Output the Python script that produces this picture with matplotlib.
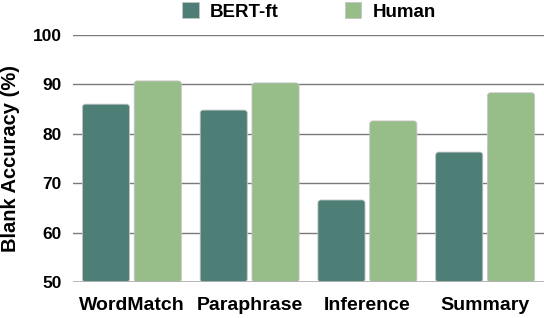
import numpy as np
import matplotlib.pyplot as plt
from matplotlib.patches import FancyBboxPatch, Patch

# data
categories = ['WordMatch', 'Paraphrase', 'Inference', 'Summary']
bert_ft = [86.0, 84.8, 66.6, 76.3]
human = [90.7, 90.3, 82.6, 88.3]
yticks = [50, 60, 70, 80, 90, 100]

c_bert = '#4e7f76'
c_human = '#97bd89'

plt.rcParams['font.family'] = ['Liberation Sans', 'DejaVu Sans']
plt.rcParams['font.weight'] = 'bold'

fig = plt.figure(figsize=(5.44, 3.18), dpi=100)
ax = fig.add_axes([73 / 544, 36 / 318, 471 / 544, 247 / 318])

x = np.arange(len(categories))
w = 0.40
off = 0.22

# grid first so bars sit on top
for t in yticks[1:]:
    ax.axhline(t, color='#7a7a7a', lw=1.0, zorder=0)

b1 = ax.bar(x - off, [v - 50 for v in bert_ft], w, bottom=50, color=c_bert)
b2 = ax.bar(x + off, [v - 50 for v in human], w, bottom=50, color=c_human)

ax.set_xlim(-0.5, 3.5)
ax.set_ylim(50, 100)

# swap the plain rectangles for rounded ones
px_x = 471 / 4.0    # pixels per x unit
px_y = 247 / 50.0   # pixels per y unit
r = 3.0 / px_x
for bars, col in [(b1, c_bert), (b2, c_human)]:
    for rect in bars:
        rect.remove()
        fb = FancyBboxPatch((rect.get_x(), rect.get_y()), rect.get_width(), rect.get_height(),
                            boxstyle='round,pad=0,rounding_size=%f' % r,
                            mutation_aspect=px_x / px_y, facecolor=col,
                            edgecolor='#c4c4c4', linewidth=0.6, zorder=2)
        ax.add_patch(fb)

ax.axhline(50, color='#b0b0b0', lw=2.0, zorder=3)

ax.set_yticks(yticks)
ax.set_yticklabels([str(t) for t in yticks], fontsize=12.5, fontweight='bold')
ax.set_xticks(x)
ax.set_xticklabels(categories, fontsize=14, fontweight='bold')
ax.tick_params(axis='y', length=0, pad=8)
ax.tick_params(axis='x', length=0, pad=11)
for s in ax.spines.values():
    s.set_visible(False)

ax.set_ylabel('Blank Accuracy (%)', fontsize=14.5, fontweight='bold', labelpad=9)

handles = [Patch(facecolor=c_bert, edgecolor='#c4c4c4', linewidth=0.6),
           Patch(facecolor=c_human, edgecolor='#c4c4c4', linewidth=0.6)]
fig.legend(handles, ['BERT-ft', 'Human'], loc='center', bbox_to_anchor=(0.568, 0.964),
           ncol=2, frameon=False, prop={'size': 13.5, 'weight': 'bold'},
           handlelength=0.9, handleheight=0.9, columnspacing=3.5, handletextpad=0.6,
           borderpad=0.1)

fig.savefig('out.png', dpi=100)
